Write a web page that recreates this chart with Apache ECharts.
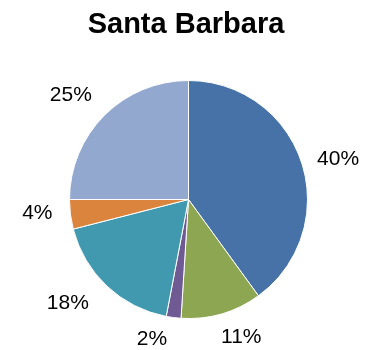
<!DOCTYPE html>
<html>
<head>
<meta charset="utf-8">
<script src="https://cdn.jsdelivr.net/npm/echarts@6/dist/echarts.min.js"></script>
<style>
  html, body { margin: 0; padding: 0; background: #fff; }
  #chart { width: 372px; height: 350px; }
</style>
</head>
<body>
<div id="chart"></div>
<script>
// Share of each group, in percent
const categories = ['A', 'B', 'C', 'D', 'E', 'F'];
const shares = [40, 11, 2, 18, 4, 25];

// Slice colours, in drawing order
const sliceColors = ['#4672A8', '#8CA651', '#6F5A93', '#4199B0', '#DB843D', '#93A8CF'];
// Small nudges that keep the outside labels clear of each other and the frame
const labelNudge = [[-1, 0], [-9, 12], [0, 10], [-5, 8], [-1, -3], [1, -12]];

const chart = echarts.init(document.getElementById('chart'), null, { renderer: 'canvas' });

chart.setOption({
  animation: false,
  backgroundColor: '#ffffff',
  title: {
    text: 'Santa Barbara',
    left: 'center',
    top: 5,
    textStyle: {
      fontFamily: 'Liberation Sans, Arial, sans-serif',
      fontSize: 29,
      fontWeight: 'bold',
      color: '#000000'
    }
  },
  series: [{
    type: 'pie',
    center: [188.5, 199.5],
    radius: 119,
    startAngle: 90,
    clockwise: true,
    avoidLabelOverlap: false,
    data: categories.map((name, i) => ({
      name: name,
      value: shares[i],
      itemStyle: { color: sliceColors[i] }
    })),
    itemStyle: { borderColor: '#ffffff', borderWidth: 1 },
    label: {
      show: true,
      position: 'outside',
      formatter: p => p.value + '%',
      fontFamily: 'Liberation Sans, Arial, sans-serif',
      fontSize: 21,
      color: '#000000',
      distanceToLabelLine: 5
    },
    labelLine: { show: false, length: 12, length2: 0 },
    labelLayout: params => ({ dx: labelNudge[params.dataIndex][0], dy: labelNudge[params.dataIndex][1] }),
    emphasis: { disabled: true }
  }]
});
</script>
</body>
</html>
